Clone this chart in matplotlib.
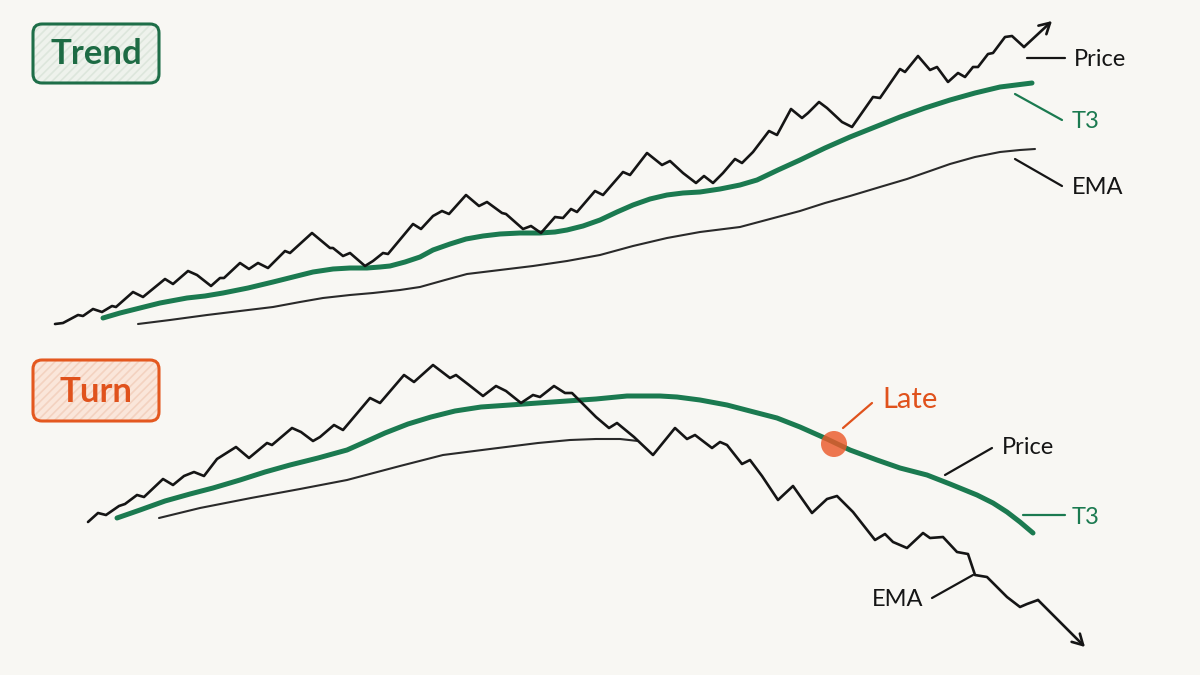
import matplotlib
matplotlib.use("Agg")
import matplotlib.pyplot as plt
from matplotlib.patches import FancyBboxPatch, Circle

# ---------------- data (pixel-like units) ----------------
# Top panel "Trend"
trend_price_x = [55,63,78,83,93,102,112,116,133,143,165,173,188,197,211,220,224,240,249,258,
                 268,285,290,312,330,333,343,350,365,373,383,388,413,421,433,442,449,466,479,487,
                 502,506,523,531,541,555,563,571,577,595,603,623,630,647,662,670,683,696,704,713,
                 723,735,742,753,769,777,791,802,808,819,827,842,852,873,880,900,905,918,930,937,
                 948,958,965,973,978,988,993,1005,1012,1024,1052]
trend_price_y = [324,323,315,316,309,312,306,307,292,297,279,284,271,275,286,278,278,263,269,263,
                 268,251,253,233,248,248,256,253,266,261,253,254,224,229,216,211,214,195,206,202,
                 213,214,229,226,233,217,218,209,212,191,195,172,175,153,165,161,173,183,176,183,
                 173,159,163,152,131,135,109,118,113,102,108,122,127,97,98,69,72,56,70,67,
                 82,73,77,67,67,54,53,37,36,47,21]
trend_t3_x = [103,120,140,160,187,205,223,248,273,293,313,333,350,367,380,390,405,420,433,450,
              466,483,500,520,540,555,567,583,600,617,633,650,667,683,700,720,740,757,778,800,
              825,850,875,900,925,950,975,1000,1016,1032]
trend_t3_y = [318,313,308,303,298,296,293,288,282,277,272,269,268,268,267,266,262,257,250,244,
              239,236,234,233,233,232,230,226,220,212,205,199,195,193,192,189,185,180,170,160,
              148,137,127,117,108,100,93,87,85,83]
trend_ema_x = [138,170,207,240,273,300,323,350,373,400,420,445,467,500,533,567,600,633,667,700,
               740,770,800,825,850,880,907,930,950,975,1000,1020,1035]
trend_ema_y = [324,320,315,311,307,302,298,295,293,290,287,280,274,270,266,261,255,246,238,232,
               227,219,211,203,196,187,179,171,164,157,152,150,149]

# Bottom panel "Turn"
turn_price_x = [88,98,106,119,125,137,144,163,173,184,194,204,217,236,249,267,272,292,301,313,
                320,334,343,370,380,404,414,433,450,456,469,483,496,506,521,533,540,554,565,572,
                586,596,609,617,634,653,675,687,695,712,720,727,742,750,762,778,793,812,827,837,
                853,875,885,893,907,923,930,943,957,968,975,987,1007,1020,1027,1038,1085]
turn_price_y = [522,513,515,506,504,495,497,479,485,476,472,476,459,447,458,443,445,428,432,441,
                437,425,430,398,403,375,382,365,378,375,385,396,386,391,403,395,397,386,393,393,
                407,417,428,423,437,455,428,439,435,448,442,445,464,460,476,500,486,513,499,496,
                512,540,534,542,548,533,538,537,552,554,575,577,597,607,604,600,647]
turn_t3_x = [117,140,165,190,213,240,265,290,318,347,365,385,408,431,455,481,510,538,567,596,
             627,660,677,700,727,750,777,800,827,850,877,900,927,950,977,993,1007,1020,1033]
turn_t3_y = [518,510,501,494,488,480,472,465,458,450,442,433,424,417,411,407,405,403,401,399,
             396,396,397,400,405,411,418,427,439,450,460,468,475,484,495,503,512,522,533]
turn_ema_x = [159,200,251,300,347,400,443,490,538,570,596,620,638]
turn_ema_y = [518,508,498,489,480,466,455,449,443,440,439,439,441]

late_x, late_y = 834, 444

# ---------------- style ----------------
BG = "#f8f7f3"
GREEN = "#1b7a50"
GREEN_DARK = "#1d6b44"
ORANGE = "#e0521c"
INK = "#151515"
FONT = ["Lato", "DejaVu Sans"]

fig = plt.figure(figsize=(12, 6.75), dpi=100)
fig.patch.set_facecolor(BG)
ax = fig.add_axes([0, 0, 1, 1])
ax.set_xlim(0, 1200)
ax.set_ylim(675, 0)
ax.axis("off")
ax.set_facecolor(BG)

line_kw = dict(solid_capstyle="round", solid_joinstyle="round")


def arrow_line(xs, ys):
    ax.plot(xs[:-1], ys[:-1], color=INK, lw=1.9, zorder=4, **line_kw)
    ax.annotate("", xy=(xs[-1], ys[-1]), xytext=(xs[-2], ys[-2]),
                arrowprops=dict(arrowstyle="->,head_length=0.75,head_width=0.42",
                                color=INK, lw=1.9, shrinkA=0, shrinkB=0,
                                capstyle="round", joinstyle="round"),
                zorder=4)


def label_box(x0, y0, w, h, text, edge, fill, hatchc, tcolor):
    plt.rcParams["hatch.linewidth"] = 1.2
    bg = FancyBboxPatch((x0, y0), w, h, boxstyle="round,pad=0,rounding_size=9",
                        facecolor=fill, edgecolor=hatchc, hatch="////", lw=0, zorder=2)
    ax.add_patch(bg)
    fr = FancyBboxPatch((x0, y0), w, h, boxstyle="round,pad=0,rounding_size=9",
                        facecolor="none", edgecolor=edge, lw=2.2, zorder=3)
    ax.add_patch(fr)
    ax.text(x0 + w / 2, y0 + h / 2 + 1, text, color=tcolor, fontsize=25, fontweight="bold",
            ha="center", va="center", family=FONT, zorder=4)


def leader(x1, y1, x2, y2, color, lw=1.6):
    ax.plot([x1, x2], [y1, y2], color=color, lw=lw, solid_capstyle="round", zorder=3)


# ---------------- top panel ----------------
label_box(33, 24, 126, 59, "Trend", "#1e6e48", "#eef2ec", "#dde6dc", GREEN_DARK)
ax.plot(trend_ema_x, trend_ema_y, color="#2a2a2a", lw=1.5, zorder=3, **line_kw)
ax.plot(trend_t3_x, trend_t3_y, color=GREEN, lw=3.6, zorder=3, **line_kw)
arrow_line(trend_price_x, trend_price_y)

leader(1027, 58, 1065, 58, INK)
ax.text(1074, 59, "Price", fontsize=17, color=INK, va="center", ha="left", family=FONT)
leader(1015, 94, 1062, 120, GREEN)
ax.text(1072, 122, "T3", fontsize=17, color=GREEN, va="center", ha="left", family=FONT)
leader(1015, 159, 1062, 186, INK)
ax.text(1072, 188, "EMA", fontsize=17, color=INK, va="center", ha="left", family=FONT)

# ---------------- bottom panel ----------------
label_box(33, 360, 126, 61, "Turn", "#e4581f", "#fae6da", "#f3d2c0", ORANGE)
ax.plot(turn_ema_x, turn_ema_y, color="#2a2a2a", lw=1.5, zorder=3, **line_kw)
ax.plot(turn_t3_x, turn_t3_y, color=GREEN, lw=3.6, zorder=3, **line_kw)
arrow_line(turn_price_x, turn_price_y)

ax.add_patch(Circle((late_x, late_y), 13, facecolor="#eb5a2b", alpha=0.82,
                    edgecolor="none", zorder=5))
leader(843, 428, 872, 403, ORANGE)
ax.text(882, 400, "Late", fontsize=21, color=ORANGE, va="center", ha="left", family=FONT)

leader(945, 475, 992, 448, INK)
ax.text(1002, 447, "Price", fontsize=17, color=INK, va="center", ha="left", family=FONT)
leader(1023, 515, 1065, 515, GREEN)
ax.text(1072, 517, "T3", fontsize=17, color=GREEN, va="center", ha="left", family=FONT)
leader(932, 598, 973, 575, INK)
ax.text(872, 600, "EMA", fontsize=17, color=INK, va="center", ha="left", family=FONT)

fig.savefig("out.png", dpi=100, facecolor=BG)
